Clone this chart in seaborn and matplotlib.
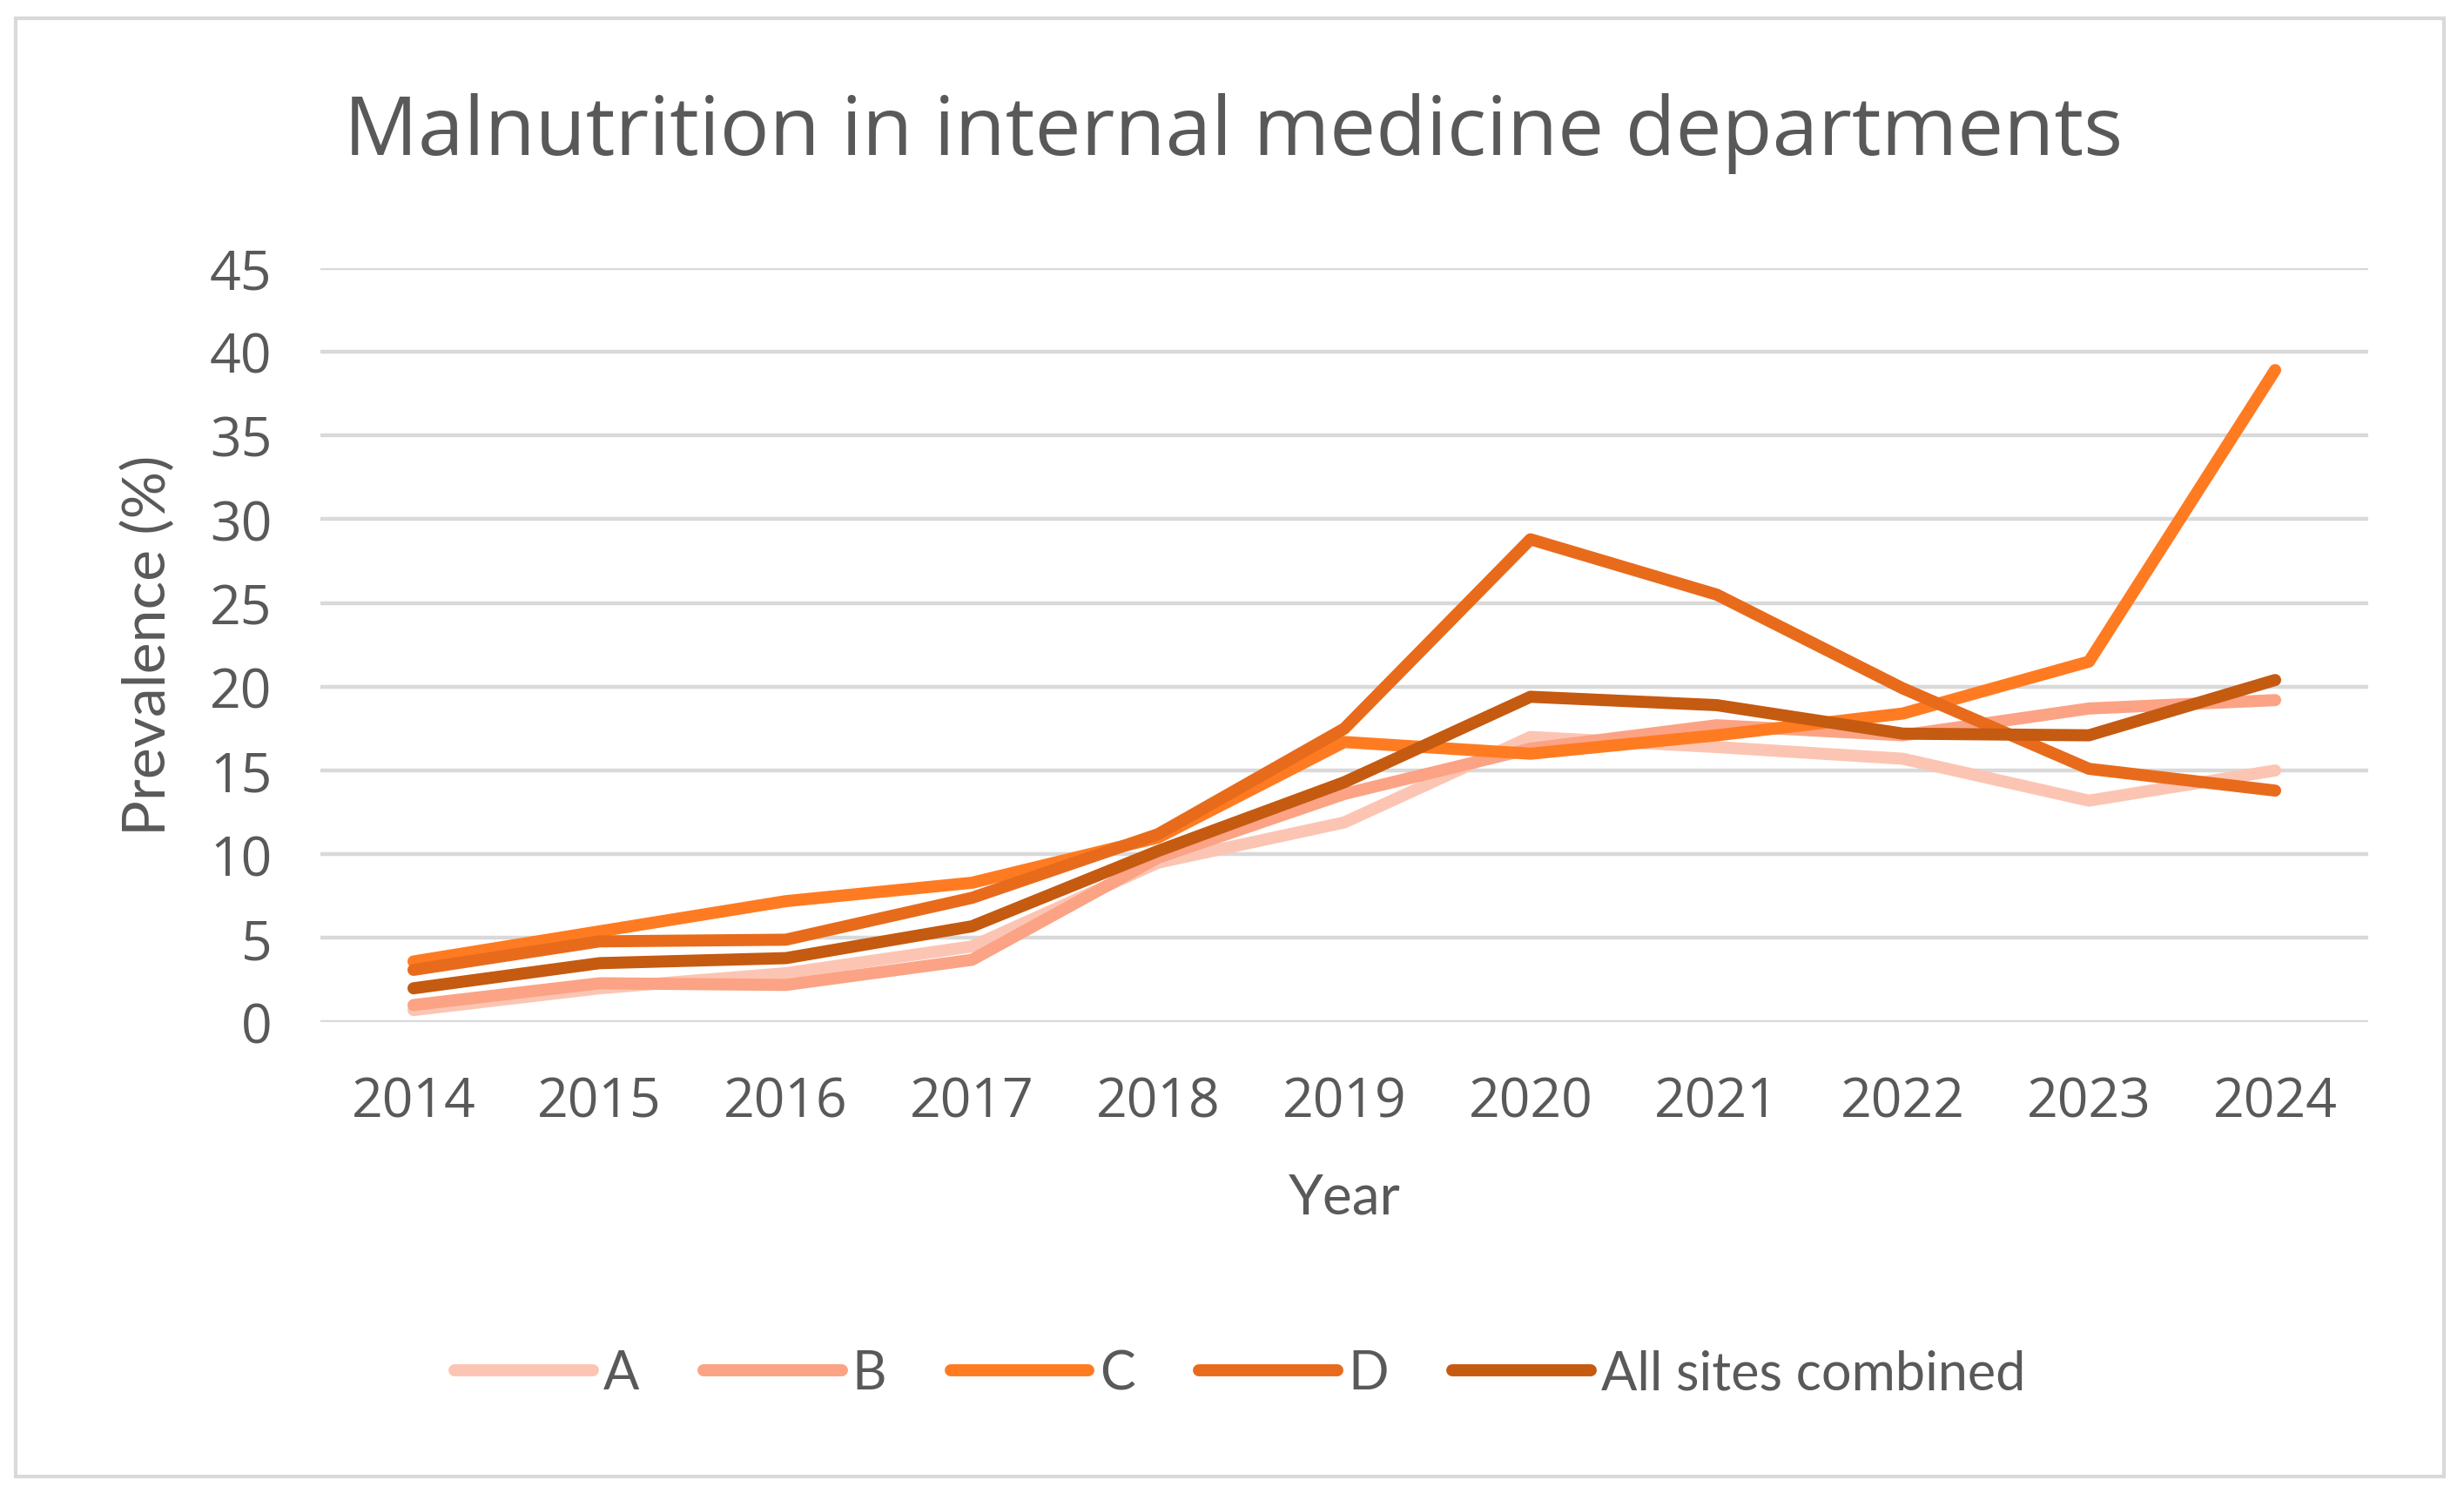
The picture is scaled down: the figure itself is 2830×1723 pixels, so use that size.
import pandas as pd
import matplotlib.pyplot as plt
import matplotlib.patches as patches
import seaborn as sns

years = [2014, 2015, 2016, 2017, 2018, 2019, 2020, 2021, 2022, 2023, 2024]
site_a = [0.7, 2.0, 2.9, 4.5, 9.5, 11.9, 17.0, 16.4, 15.7, 13.2, 15.0]
site_b = [1.0, 2.3, 2.2, 3.7, 9.8, 13.6, 16.3, 17.7, 17.1, 18.7, 19.2]
site_c = [3.6, 5.4, 7.2, 8.3, 11.0, 16.7, 16.0, 17.1, 18.4, 21.5, 38.9]
site_d = [3.1, 4.8, 4.9, 7.4, 11.2, 17.5, 28.8, 25.5, 19.9, 15.1, 13.8]
combined = [2.0, 3.5, 3.8, 5.7, 10.2, 14.3, 19.4, 18.9, 17.2, 17.1, 20.4]

series_names = ['A', 'B', 'C', 'D', 'All sites combined']
series_colors = ['#FCC5B3', '#FBA384', '#FF7B22', '#E86B1C', '#C55A11']

TEXT_C = '#595959'
GRID_C = '#D9D9D9'

frames = []
for name, vals in zip(series_names, [site_a, site_b, site_c, site_d, combined]):
    frames.append(pd.DataFrame({'Year': years, 'Prevalence': vals, 'Site': name}))
df = pd.concat(frames, ignore_index=True)

sns.set_style('white')
plt.rcParams['font.family'] = ['Open Sans', 'DejaVu Sans']

W, H, DPI = 2830, 1724, 200
fig = plt.figure(figsize=(W / DPI, H / DPI), dpi=DPI)
ax = fig.add_axes([368 / W, 1 - 1174.7 / H, (2720 - 368) / W, (1174.7 - 308.7) / H])

LW = 5.0
sns.lineplot(data=df, x='Year', y='Prevalence', hue='Site', hue_order=series_names,
             palette=series_colors, linewidth=LW, ax=ax, legend=False)
for ln in ax.get_lines():
    ln.set_solid_capstyle('round')
    ln.set_solid_joinstyle('round')

ax.set_xlim(years[0] - 0.5, years[-1] + 0.5)
ax.set_ylim(0, 45)
ax.set_xticks(years)
ax.set_xticklabels([str(y) for y in years])
ax.set_yticks(range(0, 46, 5))
ax.yaxis.grid(True, color=GRID_C, linewidth=1.6)
ax.set_axisbelow(True)
for s in ax.spines.values():
    s.set_visible(False)
ax.tick_params(axis='both', length=0, labelsize=22.5, labelcolor=TEXT_C)
ax.tick_params(axis='y', pad=20)
ax.tick_params(axis='x', pad=22)

lab_font = ['Lato', 'DejaVu Sans']
ax.set_ylabel('Prevalence (%)', fontsize=24.5, color=TEXT_C, family=lab_font)
ax.set_xlabel('Year', fontsize=23, color=TEXT_C, family=lab_font)
ax.yaxis.set_label_coords(-0.0706, 0.5)
ax.xaxis.set_label_coords(0.5, -0.20)

fig.text(0.5007, 1 - 153 / H, 'Malnutrition in internal medicine departments',
         ha='center', va='center', fontsize=34, color=TEXT_C)

handles = [plt.Line2D([], [], color=c, linewidth=LW, solid_capstyle='round')
           for c in series_colors]
fig.legend(handles, series_names, loc='center', bbox_to_anchor=(1424 / W, 1 - 1579 / H),
           ncol=5, frameon=False, handlelength=2.6, handletextpad=0.2, columnspacing=1.2,
           prop={'family': lab_font, 'size': 22}, labelcolor=TEXT_C)

fig.patches.append(patches.Rectangle((18 / W, 1 - 1697 / H), (2807 - 18) / W, (1697 - 22) / H,
                                     transform=fig.transFigure, fill=False,
                                     edgecolor=GRID_C, linewidth=1.5))

fig.savefig('out.png', dpi=DPI, facecolor='white')
